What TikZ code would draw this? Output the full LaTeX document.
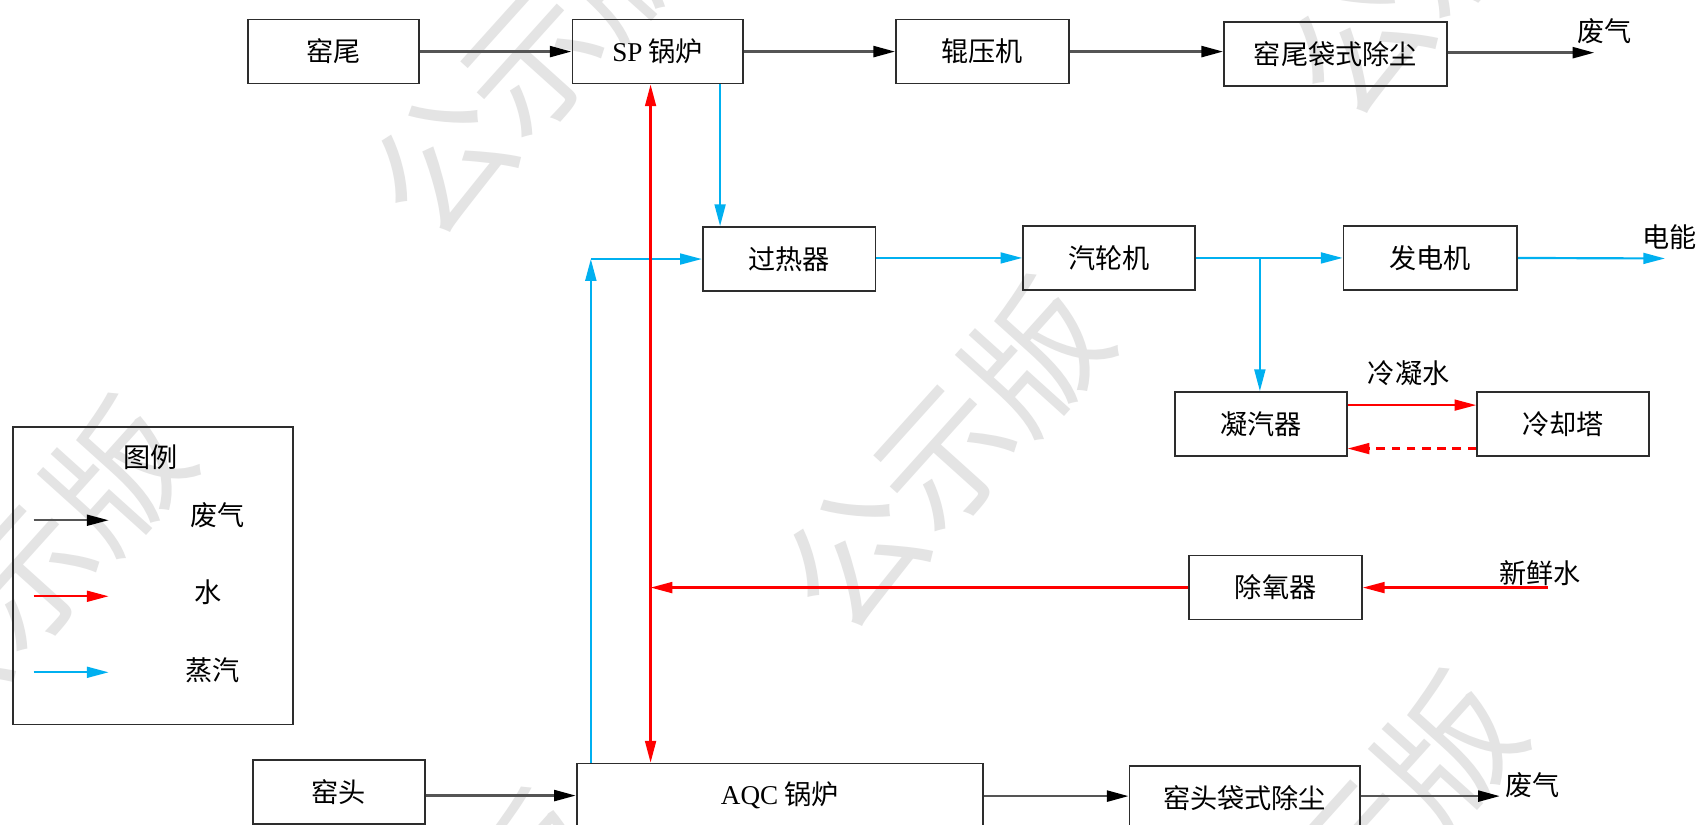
\documentclass[tikz,border=0pt]{standalone}
\usepackage{fontspec}
\setmainfont{Liberation Serif}
\newfontfamily\cjk{Noto Sans CJK SC}
\usetikzlibrary{arrows.meta}
\definecolor{steamc}{RGB}{0,176,240}
\definecolor{gasc}{RGB}{85,85,85}
\definecolor{boxc}{RGB}{45,45,45}
\definecolor{wmc}{RGB}{228,228,228}
\definecolor{waterc}{RGB}{255,0,0}
\begin{document}
\begin{tikzpicture}[x=1pt,y=-1pt,
  every node/.style={font=\fontsize{25}{30}\selectfont\cjk, inner sep=0pt},
  blk/.style={draw=boxc, line width=1.6pt, minimum height=59pt},
  lbl/.style={},
  wmark/.style={text=wmc, rotate=48, font=\fontsize{125}{130}\selectfont\cjk},
  gas/.style={draw=gasc, line width=2.5pt, -{Triangle[length=20pt,width=10pt,color=black]}},
  water/.style={draw=waterc, line width=2pt, -{Triangle[length=20pt,width=10pt,color=waterc]}},
  steam/.style={draw=steamc, line width=2pt, -{Triangle[length=20pt,width=10pt,color=steamc]}}
]
\useasboundingbox (0,0) rectangle (1568,759);
\clip (0,0) rectangle (1568,759);
\fill[white] (0,0) rectangle (1568,759);

% watermark
\node[wmark] (wm1) at (490,57) {公示版};
\node[wmark] (wm2) at (870,420) {公示版};
\node[wmark] (wm3) at (1250,783) {公示版};
\node[wmark] (wm4) at (1335,-53) {公示版};
\node[wmark] (wm5) at (25,530) {公示版};
\node[wmark] (wm6) at (405,893) {公示版};
\node[wmark] (wm7) at (1715,310) {公示版};

% boxes
\node[blk, minimum width=158pt] (wy) at (307,47.5) {窑尾};
\node[blk, minimum width=157pt] (sp) at (605.5,47.5) {\textrm{SP} 锅炉};
\node[blk, minimum width=159pt] (gy) at (904.5,47.5) {辊压机};
\node[blk, minimum width=205pt] (wyd) at (1229.5,49.5) {窑尾袋式除尘};
\node[blk, minimum width=159pt] (grq) at (726.5,238.5) {过热器};
\node[blk, minimum width=158pt] (qlj) at (1021,237.5) {汽轮机};
\node[blk, minimum width=160pt] (fdj) at (1317,237.5) {发电机};
\node[blk, minimum width=158pt] (nqq) at (1161,390.5) {凝汽器};
\node[blk, minimum width=158pt] (lqt) at (1439,390.5) {冷却塔};
\node[blk, minimum width=159pt] (cyq) at (1174.5,541) {除氧器};
\node[blk, minimum width=158pt] (wt) at (312,729.5) {窑头};
\node[blk, minimum width=374pt] (aqc) at (718,732.5) {\textrm{AQC} 锅炉};
\node[blk, minimum width=212pt] (wtd) at (1146,734.5) {窑头袋式除尘};

% free labels
\node[lbl] (gasout1) at (1477,29) {废气};
\node[lbl] (elecl) at (1537,218) {电能};
\node[lbl] (cwl) at (1297,344) {冷凝水};
\node[lbl] (fwl) at (1418,528) {新鲜水};
\node[lbl] (gasout2) at (1411,723) {废气};

% helper coordinates
\coordinate (g1end) at (1468,48.5);
\coordinate (eend) at (1533,238);
\coordinate (s1) at (663,0);
\coordinate (bc) at (544,238.5);
\coordinate (j) at (599,541);
\coordinate (br) at (1160,237.5);
\coordinate (fw) at (1425,541);
\coordinate (g2end) at (1381,733);

% exhaust line
\draw[gas] (wy.east) -- (sp.west);
\draw[gas] (sp.east) -- (gy.west);
\draw[gas] (gy.east) -- (gy.east -| wyd.west);
\draw[gas] (wyd.east |- g1end) -- (g1end);
\draw[gas] (wt.east |- aqc.west) -- (aqc.west);
\draw[gas] (aqc.east |- g2end) -- (g2end -| wtd.west);
\draw[gas] (wtd.east |- g2end) -- (g2end);

% steam
\draw[steam] (s1 |- sp.south) -- (s1 |- grq.north);
\draw[steam] (bc |- aqc.north) -- (bc);
\draw[steam] (bc) -- (grq.west);
\draw[steam] (grq.east |- qlj.west) -- (qlj.west);
\draw[steam] (qlj.east) -- (fdj.west);
\draw[steam] (br) -- (br |- nqq.north);
\draw[steam] (fdj.east) -- (eend);

% water
\draw[water] (cyq.west) -- (j);
\draw[water] (j) -- (j |- sp.south);
\draw[water] (j) -- (j |- aqc.north);
\draw[water] (fw) -- (cyq.east);
\draw[water] ([yshift=17.5pt]nqq.east) -- ([yshift=17.5pt]nqq.east -| lqt.west);
\draw[water, dash pattern=on 8pt off 6pt] ([yshift=-22.5pt]lqt.west) -- ([yshift=-22.5pt]lqt.west -| nqq.east);

% legend
\node[draw=boxc, line width=1.6pt, minimum width=258pt, minimum height=274pt] (lg) at (141,530) {};
\node (lgt) at (139,421) {图例};
\coordinate (la1) at (31,479); \coordinate (lb1) at (100,479);
\coordinate (la2) at (31,549); \coordinate (lb2) at (100,549);
\coordinate (la3) at (31,619); \coordinate (lb3) at (100,619);
\draw[gas, line width=2pt] (la1) -- (lb1);
\draw[water] (la2) -- (lb2);
\draw[steam] (la3) -- (lb3);
\node (lt1) at (200,474) {废气};
\node (lt2) at (192,545) {水};
\node (lt3) at (196,617) {蒸汽};
\end{tikzpicture}
\end{document}
